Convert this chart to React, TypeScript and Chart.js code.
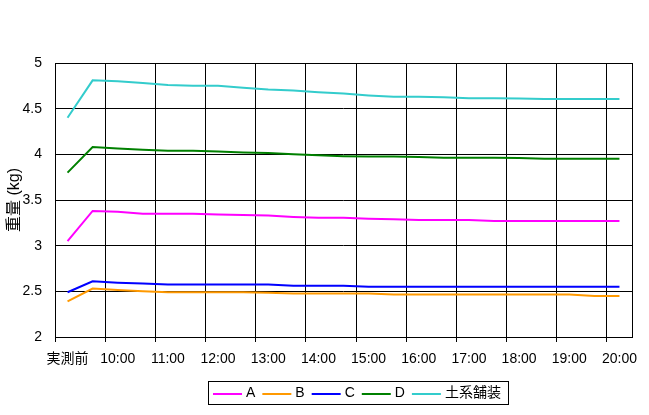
import React, { useEffect, useRef } from 'react';
import { Chart, registerables } from 'chart.js';

Chart.register(...registerables);

const categories = [
  '実測前', '9:30', '10:00', '10:30', '11:00', '11:30', '12:00', '12:30',
  '13:00', '13:30', '14:00', '14:30', '15:00', '15:30', '16:00', '16:30',
  '17:00', '17:30', '18:00', '18:30', '19:00', '19:30', '20:00',
];

const seriesA = [3.05, 3.38, 3.37, 3.35, 3.35, 3.35, 3.34, 3.335, 3.33, 3.315, 3.305, 3.305, 3.295, 3.29, 3.28, 3.28, 3.28, 3.27, 3.27, 3.27, 3.27, 3.27, 3.27];
const seriesB = [2.39, 2.53, 2.515, 2.50, 2.49, 2.49, 2.49, 2.49, 2.485, 2.475, 2.475, 2.475, 2.475, 2.465, 2.465, 2.465, 2.465, 2.465, 2.465, 2.465, 2.465, 2.45, 2.45];
const seriesC = [2.49, 2.61, 2.595, 2.585, 2.575, 2.575, 2.575, 2.575, 2.575, 2.56, 2.56, 2.56, 2.55, 2.55, 2.55, 2.55, 2.55, 2.55, 2.55, 2.55, 2.55, 2.55, 2.55];
const seriesD = [3.80, 4.08, 4.065, 4.05, 4.04, 4.04, 4.03, 4.02, 4.015, 4.00, 3.99, 3.98, 3.975, 3.975, 3.97, 3.963, 3.963, 3.963, 3.96, 3.952, 3.952, 3.952, 3.952];
const seriesSoil = [4.40, 4.81, 4.80, 4.78, 4.76, 4.75, 4.75, 4.73, 4.71, 4.70, 4.68, 4.665, 4.645, 4.63, 4.63, 4.625, 4.615, 4.615, 4.61, 4.605, 4.605, 4.605, 4.605];

const seriesLabels = ['A', 'B', 'C', 'D', '土系舗装'];
const seriesColors = ['#FF00FF', '#FF9900', '#0000FF', '#008000', '#33CCCC'];
const seriesValues = [seriesA, seriesB, seriesC, seriesD, seriesSoil];

const yMin = 2;
const yMax = 5;
const yStep = 0.5;
const yTitle = '重量 (kg)';

const FONT_FAMILY = '"Liberation Sans", Arial, "Noto Sans CJK JP", sans-serif';

const framePlugin = {
  id: 'plotFrame',
  afterDatasetsDraw(chart: any) {
    const { ctx, chartArea } = chart;
    const x0 = Math.round(chartArea.left - 0.5) + 0.5;
    const x1 = Math.round(chartArea.right - 0.5) + 0.5;
    const y0 = Math.round(chartArea.top - 0.5) + 0.5;
    const y1 = Math.round(chartArea.bottom - 0.5) + 0.5;
    ctx.save();
    ctx.strokeStyle = '#000';
    ctx.lineWidth = 1;
    ctx.strokeRect(x0, y0, x1 - x0, y1 - y0);
    ctx.restore();
  },
};

const boxLegendPlugin = {
  id: 'boxLegend',
  afterDraw(chart: any) {
    const ctx = chart.ctx;
    ctx.save();
    ctx.font = '14px ' + FONT_FAMILY;
    const lineLen = 29;
    const gap = 4;
    const itemGap = 7;
    const padL = 5;
    const padR = 7;
    const items = chart.data.datasets.map((ds: any) => ({
      label: ds.label as string,
      color: ds.borderColor as string,
      w: ctx.measureText(ds.label).width,
    }));
    let total = padL + padR;
    items.forEach((it: any, i: number) => {
      total += lineLen + gap + it.w + (i < items.length - 1 ? itemGap : 0);
    });
    const cx = 357.5;
    const top = 381;
    const h = 23;
    const left = Math.round(cx - total / 2);
    ctx.strokeStyle = '#000';
    ctx.lineWidth = 1;
    ctx.strokeRect(left + 0.5, top + 0.5, Math.round(total), h);
    let x = left + padL;
    const lineY = 394;
    ctx.textBaseline = 'middle';
    ctx.textAlign = 'left';
    ctx.fillStyle = '#000';
    items.forEach((it: any) => {
      ctx.strokeStyle = it.color;
      ctx.lineWidth = 2;
      ctx.beginPath();
      ctx.moveTo(x, lineY);
      ctx.lineTo(x + lineLen, lineY);
      ctx.stroke();
      ctx.fillText(it.label, x + lineLen + gap, 393.5);
      x += lineLen + gap + it.w + itemGap;
    });
    ctx.restore();
  },
};

export default function App() {
  const ref = useRef<HTMLCanvasElement | null>(null);

  useEffect(() => {
    document.body.style.margin = '0';
    const canvas = ref.current;
    if (!canvas) return;
    Chart.defaults.font.family = FONT_FAMILY;
    Chart.defaults.color = '#000';

    const chart = new Chart(canvas, {
      type: 'line',
      data: {
        labels: categories,
        datasets: seriesLabels.map((label, i) => ({
          label,
          data: seriesValues[i],
          borderColor: seriesColors[i],
          backgroundColor: seriesColors[i],
          borderWidth: 2,
          pointRadius: 0,
          pointHoverRadius: 0,
          tension: 0,
          fill: false,
        })),
      },
      options: {
        animation: false,
        responsive: false,
        devicePixelRatio: 1,
        events: [],
        layout: {
          padding: { left: 0, right: 17, top: 63, bottom: 40 },
        },
        plugins: {
          legend: { display: false },
          tooltip: { enabled: false },
          title: { display: false },
        },
        scales: {
          x: {
            type: 'category',
            offset: true,
            afterFit(scale: any) {
              scale.height = 38;
            },
            grid: {
              offset: true,
              drawOnChartArea: true,
              drawTicks: true,
              tickLength: 5,
              lineWidth: 1,
              color: (ctx: any) => (ctx.index % 2 === 0 ? '#000000' : 'rgba(0,0,0,0)'),
            },
            border: { display: false },
            ticks: {
              autoSkip: false,
              maxRotation: 0,
              minRotation: 0,
              padding: 9,
              color: '#000',
              font: { size: 14, family: FONT_FAMILY },
              callback: (_v: any, idx: number) => (idx % 2 === 0 ? categories[idx] : ''),
            },
          },
          y: {
            type: 'linear',
            min: yMin,
            max: yMax,
            afterFit(scale: any) {
              scale.width = 55;
            },
            grid: {
              color: '#000000',
              lineWidth: 1,
              drawTicks: false,
            },
            border: { display: false },
            ticks: {
              stepSize: yStep,
              padding: 13,
              color: '#000',
              font: { size: 14, family: FONT_FAMILY },
              callback: (v: any) => String(Number(v)),
            },
            title: {
              display: true,
              text: yTitle,
              color: '#000',
              font: { size: 16, family: FONT_FAMILY },
              padding: { top: 5, bottom: 0 },
            },
          },
        },
      },
      plugins: [framePlugin, boxLegendPlugin],
    });

    return () => {
      chart.destroy();
    };
  }, []);

  return (
    <div style={{ width: 649, height: 415, background: '#fff' }}>
      <canvas ref={ref} width={649} height={415} style={{ display: 'block' }} />
    </div>
  );
}
